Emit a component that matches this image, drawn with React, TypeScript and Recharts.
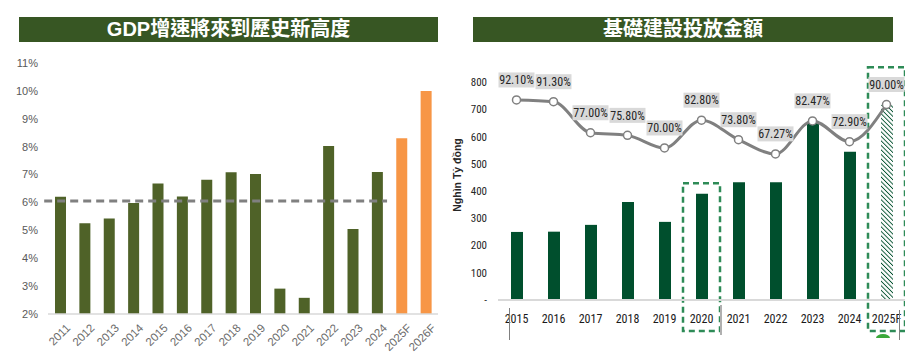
import React from 'react';
import {
  ComposedChart,
  Bar,
  Cell,
  XAxis,
  YAxis,
  ReferenceLine,
  ReferenceArea,
  Line,
  LabelList,
} from 'recharts';

// ---------- Left chart data: GDP growth ----------
const gdpYears = ['2011', '2012', '2013', '2014', '2015', '2016', '2017', '2018', '2019', '2020', '2021', '2022', '2023', '2024', '2025F', '2026F'];
const gdpGrowth = [6.2, 5.25, 5.42, 5.98, 6.68, 6.21, 6.81, 7.08, 7.02, 2.91, 2.58, 8.02, 5.05, 7.09, 8.3, 10.0];
const gdpTicks = [2, 3, 4, 5, 6, 7, 8, 9, 10, 11];
const gdpAverage = 6.05;
const gdpAverageFrom = '2011';
const gdpAverageTo = '2024';

// ---------- Right chart data: infrastructure investment ----------
const infraYears = ['2015', '2016', '2017', '2018', '2019', '2020', '2021', '2022', '2023', '2024', '2025F'];
const infraValue = [250, 251, 276, 360, 287, 390, 433, 433, 651, 545, 716];
const infraRate = [92.1, 91.3, 77.0, 75.8, 70.0, 82.8, 73.8, 67.27, 82.47, 72.9, 90.0];
const infraTicks = [0, 100, 200, 300, 400, 500, 600, 700, 800];
const highlightYear = '2020';
const forecastYear = '2025F';

const gdpData = gdpYears.map((year, i) => ({ year, growth: gdpGrowth[i] }));
const infraData = infraYears.map((year, i) => ({ year, value: infraValue[i], rate: infraRate[i] }));

const NARROW = '"Liberation Sans Narrow", "Arial Narrow", "Roboto Condensed", "Liberation Sans", Arial, sans-serif';
const SANS = '"Liberation Sans", Arial, sans-serif';
const TITLE_GREEN = '#375623';

const AverageShape = (props: any) => {
  const { x1, y1, x2, y2 } = props;
  return (
    <line
      x1={x1 - 16}
      y1={y1}
      x2={x2 + 10}
      y2={y2}
      stroke="#808080"
      strokeWidth={3}
      strokeDasharray="8 5"
    />
  );
};

const GdpTick = (props: any) => {
  const { x, y, payload } = props;
  const ax = x + 5;
  const ay = y + 1;
  return (
    <text
      x={ax}
      y={ay}
      transform={`rotate(-45 ${ax} ${ay})`}
      textAnchor="end"
      dy="0.71em"
      fontSize={11.5}
      fill="#6b6b6b"
      fontFamily={SANS}
    >
      {payload.value}
    </text>
  );
};

const RateLabel = (props: any) => {
  const vb = props.viewBox || {};
  const cx = vb.x ?? props.x;
  const cy = vb.y ?? props.y;
  const value = props.value as number;
  const w = 36;
  const h = 15;
  const ly = cy - 20;
  return (
    <g>
      <rect x={cx - w / 2} y={ly - h / 2} width={w} height={h} fill="#d9d9d9" />
      <text
        x={cx}
        y={ly}
        dy="0.36em"
        textAnchor="middle"
        fontSize={12}
        fill="#262626"
        fontFamily={NARROW}
      >
        {value.toFixed(2)}%
      </text>
    </g>
  );
};

const titleStyle = (left: number, width: number): React.CSSProperties => ({
  position: 'absolute',
  left,
  top: 17,
  width,
  height: 25,
  background: TITLE_GREEN,
  color: '#ffffff',
  fontFamily: '"Liberation Sans", Arial, "Noto Sans CJK TC", sans-serif',
  fontWeight: 700,
  fontSize: 20,
  lineHeight: '25px',
  textAlign: 'center',
  whiteSpace: 'nowrap',
});

export default function App() {
  return (
    <div
      style={{
        position: 'absolute',
        left: 0,
        top: 0,
        width: 905,
        height: 364,
        background: '#ffffff',
        overflow: 'hidden',
        fontFamily: SANS,
      }}
    >
      <div style={titleStyle(19, 419)}>GDP增速將來到歷史新高度</div>
      <div style={titleStyle(473, 420)}>基礎建設投放金額</div>

      {/* Left chart */}
      <div style={{ position: 'absolute', left: 0, top: 0 }}>
        <ComposedChart
          width={450}
          height={364}
          data={gdpData}
          margin={{ top: 63, right: 12, bottom: 0, left: 0 }}
        >
          <YAxis
            width={48}
            domain={[2, 11]}
            ticks={gdpTicks}
            interval={0}
            tickFormatter={(v: number) => `${v}%`}
            axisLine={false}
            tickLine={false}
            tickMargin={4}
            tick={{ fontSize: 11, fill: '#595959', fontFamily: SANS }}
          />
          <XAxis
            dataKey="year"
            height={50}
            interval={0}
            tickLine={false}
            axisLine={{ stroke: '#d9d9d9', strokeWidth: 1.5 }}
            tick={<GdpTick />}
          />
          <Bar dataKey="growth" barSize={11} isAnimationActive={false}>
            {gdpData.map((d) => (
              <Cell key={d.year} fill={d.year.endsWith('F') ? '#f79646' : '#4f6228'} />
            ))}
          </Bar>
          <ReferenceLine
            segment={[
              { x: gdpAverageFrom, y: gdpAverage },
              { x: gdpAverageTo, y: gdpAverage },
            ]}
            ifOverflow="visible"
            shape={AverageShape}
          />
        </ComposedChart>
      </div>

      {/* Right chart */}
      <div style={{ position: 'absolute', left: 450, top: 0 }}>
        <ComposedChart
          width={455}
          height={364}
          data={infraData}
          margin={{ top: 55, right: 0, bottom: 0, left: 0 }}
        >
          <defs>
            <pattern
              id="hatch"
              patternUnits="userSpaceOnUse"
              width="3.2"
              height="3.2"
              patternTransform="rotate(-45)"
            >
              <rect width="3.2" height="3.2" fill="#ffffff" />
              <line x1="0" y1="0" x2="0" y2="3.2" stroke="#004f2d" strokeWidth="1.8" />
            </pattern>
          </defs>
          <YAxis
            yAxisId="left"
            width={48}
            domain={[0, 900]}
            ticks={infraTicks}
            interval={0}
            tickFormatter={(v: number) => (v === 0 ? '-' : `${v}`)}
            axisLine={false}
            tickLine={false}
            tickMargin={5}
            tick={{ fontSize: 11, fill: '#262626', fontFamily: NARROW }}
          />
          <YAxis yAxisId="right" orientation="right" hide domain={[0, 112.8]} />
          <XAxis
            dataKey="year"
            height={64}
            interval={0}
            tickLine={false}
            tickMargin={8}
            axisLine={{ stroke: '#d9d9d9', strokeWidth: 2 }}
            tick={{ fontSize: 12, fill: '#1a1a1a', fontFamily: NARROW }}
          />
          <Bar yAxisId="left" dataKey="value" barSize={12} isAnimationActive={false}>
            {infraData.map((d) => (
              <Cell key={d.year} fill={d.year === forecastYear ? 'url(#hatch)' : '#004f2d'} />
            ))}
          </Bar>
          <ReferenceArea
            yAxisId="left"
            x1={highlightYear}
            x2={highlightYear}
            y1={-114}
            y2={429}
            ifOverflow="visible"
            fill="none"
            fillOpacity={0}
            stroke="#2e8b57"
            strokeWidth={2.5}
            strokeDasharray="6 4"
          />
          <ReferenceArea
            yAxisId="left"
            x1={forecastYear}
            x2={forecastYear}
            y1={-114}
            y2={855}
            ifOverflow="visible"
            fill="none"
            fillOpacity={0}
            stroke="#2e8b57"
            strokeWidth={2.5}
            strokeDasharray="6 4"
          />
          <Line
            yAxisId="right"
            dataKey="rate"
            type="monotone"
            stroke="#808080"
            strokeWidth={3}
            dot={{ r: 4, fill: '#ffffff', stroke: '#808080', strokeWidth: 1.5 }}
            isAnimationActive={false}
          >
            <LabelList dataKey="rate" content={RateLabel} />
          </Line>
        </ComposedChart>
      </div>

      {/* axis title */}
      <div
        style={{
          position: 'absolute',
          left: 457,
          top: 175,
          transform: 'translate(-50%, -50%) rotate(-90deg)',
          fontFamily: SANS,
          fontWeight: 700,
          fontSize: 10.5,
          color: '#262626',
          whiteSpace: 'nowrap',
        }}
      >
        Nghìn Tỷ đồng
      </div>

      {/* small decorative marks from the source image */}
      <div style={{ position: 'absolute', left: 509, top: 308, width: 1, height: 32, background: '#808080' }} />
      <div style={{ position: 'absolute', left: 720, top: 305, width: 2, height: 30, background: '#b0b0b0' }} />
      <div style={{ position: 'absolute', left: 899, top: 310, width: 1, height: 30, background: '#808080' }} />
      <div
        style={{
          position: 'absolute',
          left: 876,
          top: 334,
          width: 14,
          height: 4,
          borderRadius: '50% 50% 0 0 / 100% 100% 0 0',
          background: '#3aa83a',
        }}
      />
    </div>
  );
}
